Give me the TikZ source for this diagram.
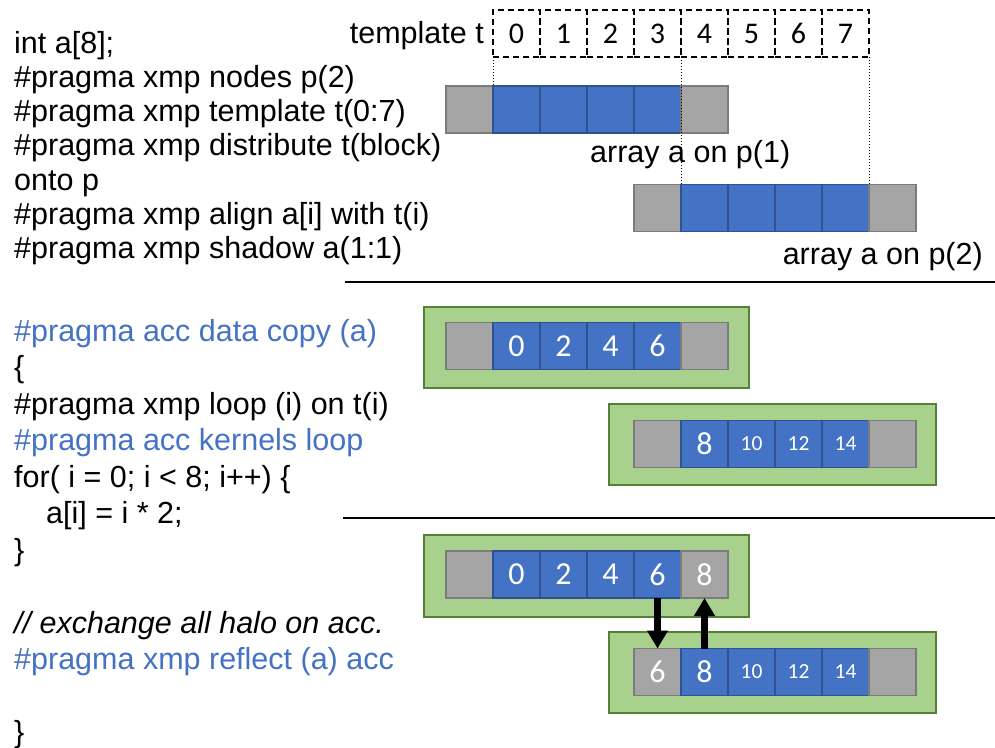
\documentclass[tikz,border=0pt]{standalone}
\usepackage{fontspec}
\setmainfont{Liberation Sans}
\newfontfamily\numfont{Carlito}
\usetikzlibrary{arrows.meta}
\definecolor{accblue}{HTML}{4472C4}
\definecolor{cellblue}{HTML}{4472C4}
\definecolor{cellblueline}{HTML}{2F528F}
\definecolor{cellgray}{HTML}{A5A5A5}
\definecolor{cellgrayline}{HTML}{7B7B7B}
\definecolor{devgreen}{HTML}{A9D18E}
\definecolor{devgreenline}{HTML}{548235}
\tikzset{
  code/.style={anchor=base west, inner sep=0pt, font=\fontsize{30.5}{36}\selectfont},
  label/.style={inner sep=0pt, font=\fontsize{30.5}{36}\selectfont},
  cellbase/.style={minimum width=47pt, minimum height=47pt, inner sep=0pt, outer sep=0pt,
    line width=1.3pt, text=white, font=\numfont\fontsize{32}{38}\selectfont},
  bluecell/.style={cellbase, fill=cellblue, draw=cellblueline},
  graycell/.style={cellbase, fill=cellgray, draw=cellgrayline},
  small/.style={font=\numfont\fontsize{21.5}{26}\selectfont},
  tcell/.style={minimum width=47pt, minimum height=47pt, inner sep=0pt, outer sep=0pt,
    draw=black, line width=1.1pt, dash pattern=on 6pt off 4pt, font=\numfont\fontsize{30}{36}\selectfont},
  devbox/.style={fill=devgreen, draw=devgreenline, line width=1.5pt, inner sep=0pt, outer sep=0pt},
  guide/.style={line width=1pt, dotted},
  rule/.style={line width=1.5pt},
  xfer/.style={line width=6.5pt, -{Triangle[width=20pt, length=18pt]}}
}
\begin{document}
\begin{tikzpicture}[x=1pt, y=-1pt]
\useasboundingbox (0,0) rectangle (995,747);

% ---- declarations (upper listing) ----
\node[code] (l1) at (14, 53) {int a[8];};
\node[code] (l2) at (14, 87.3) {\#pragma xmp nodes p(2)};
\node[code] (l3) at (14, 121.6) {\#pragma xmp template t(0:7)};
\node[code] (l4) at (14, 155.9) {\#pragma xmp distribute t(block)};
\node[code] (l5) at (14, 190.2) {onto p};
\node[code] (l6) at (14, 224.5) {\#pragma xmp align a[i] with t(i)};
\node[code] (l7) at (14, 258.8) {\#pragma xmp shadow a(1:1)};

% ---- program body (lower listing) ----
\node[code, text=accblue] (m1) at (14, 341) {\#pragma acc data copy (a)};
\node[code] (m2) at (14, 377.5) {\{};
\node[code] (m3) at (14, 414) {\#pragma xmp loop (i) on t(i)};
\node[code, text=accblue] (m4) at (14, 450.5) {\#pragma acc kernels loop};
\node[code] (m5) at (14, 487) {for( i = 0; i < 8; i++) \{};
\node[code] (m6) at (46, 523.5) {a[i] = i * 2;};
\node[code] (m7) at (14, 560) {\}};
\node[code] (m8) at (14, 633) {\itshape // exchange all halo on acc.};
\node[code, text=accblue] (m9) at (14, 669.5) {\#pragma xmp reflect (a) acc};
\node[code] (m10) at (14, 742.5) {\}};

% ---- template t ----
\node[label, anchor=east] (tlab) at (484, 36) {template t};
\foreach \i in {0,...,7} {
  \node[tcell] (t\i) at (516.5+47*\i, 33.5) {\i};
}

% ---- array a on the two nodes ----
\node[graycell] (p1c0) at (469.5,109.5) {};
\foreach \i in {1,...,4} { \node[bluecell] (p1c\i) at (469.5+47*\i,109.5) {}; }
\node[graycell] (p1c5) at (704.5,109.5) {};
\node[label, anchor=west] (p1lab) at (590, 155) {array a on p(1)};

\node[graycell] (p2c0) at (657.5,208) {};
\foreach \i in {1,...,4} { \node[bluecell] (p2c\i) at (657.5+47*\i,208) {}; }
\node[graycell] (p2c5) at (892.5,208) {};
\node[label, anchor=east] (p2lab) at (983, 257) {array a on p(2)};

\draw[guide] (t0.south west) -- (p1c1.north west);
\draw[guide] (t4.south west) -- (p2c1.north west);
\draw[guide] (t7.south east) -- (p2c4.north east);

\coordinate (ra1) at (345,282);
\coordinate (ra2) at (995,282);
\draw[rule] (ra1) -- (ra2);

% ---- after the kernel loop ----
\node[devbox, minimum width=325pt, minimum height=81pt] (g1) at (586.5,347.5) {};
\node[graycell] (q1c0) at (469.5,346) {};
\node[bluecell] (q1c1) at (516.5,346) {0};
\node[bluecell] (q1c2) at (563.5,346) {2};
\node[bluecell] (q1c3) at (610.5,346) {4};
\node[bluecell] (q1c4) at (657.5,346) {6};
\node[graycell] (q1c5) at (704.5,346) {};

\node[devbox, minimum width=327pt, minimum height=81pt] (g2) at (772.5,444.5) {};
\node[graycell] (q2c0) at (657.5,444) {};
\node[bluecell] (q2c1) at (704.5,444) {8};
\node[bluecell, small] (q2c2) at (751.5,444) {10};
\node[bluecell, small] (q2c3) at (798.5,444) {12};
\node[bluecell, small] (q2c4) at (845.5,444) {14};
\node[graycell] (q2c5) at (892.5,444) {};

\coordinate (rb1) at (343,518);
\coordinate (rb2) at (995,518);
\draw[rule] (rb1) -- (rb2);

% ---- after the halo exchange ----
\node[devbox, minimum width=325pt, minimum height=82pt] (g3) at (586.5,576) {};
\node[graycell] (s1c0) at (469.5,574.5) {};
\node[bluecell] (s1c1) at (516.5,574.5) {0};
\node[bluecell] (s1c2) at (563.5,574.5) {2};
\node[bluecell] (s1c3) at (610.5,574.5) {4};
\node[bluecell] (s1c4) at (657.5,574.5) {6};
\node[graycell] (s1c5) at (704.5,574.5) {8};

\node[devbox, minimum width=327pt, minimum height=81pt] (g4) at (772.5,672.5) {};
\node[graycell] (s2c0) at (657.5,672) {6};
\node[bluecell] (s2c1) at (704.5,672) {8};
\node[bluecell, small] (s2c2) at (751.5,672) {10};
\node[bluecell, small] (s2c3) at (798.5,672) {12};
\node[bluecell, small] (s2c4) at (845.5,672) {14};
\node[graycell] (s2c5) at (892.5,672) {};

\draw[xfer] (s1c4.south) -- (s2c0.north);
\draw[xfer] (s2c1.north) -- (s1c5.south);
\end{tikzpicture}
\end{document}
